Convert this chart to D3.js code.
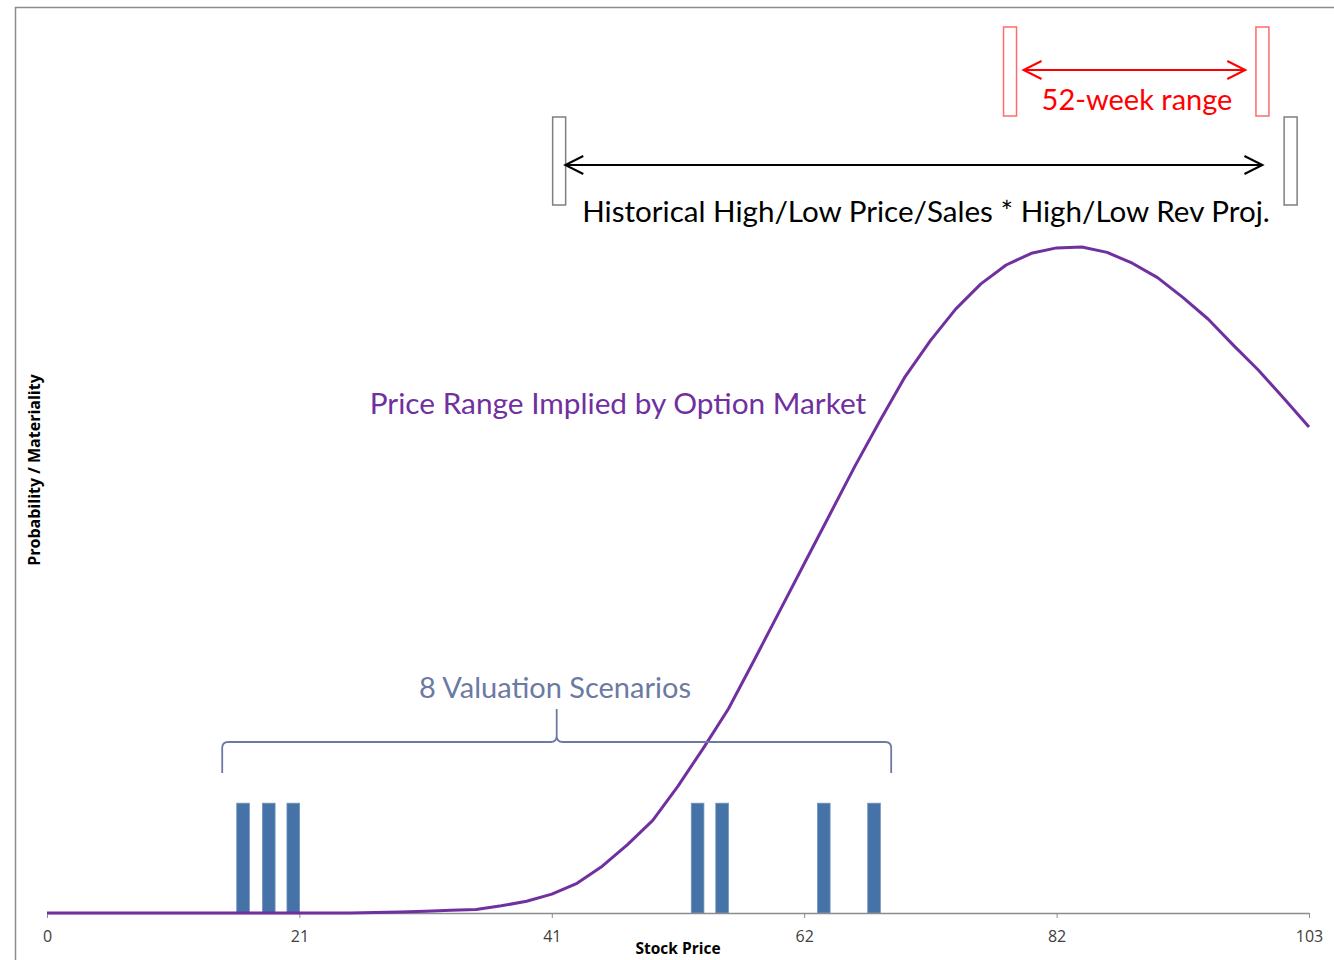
<!DOCTYPE html>
<html>
<head>
<meta charset="utf-8">
<script src="https://cdn.jsdelivr.net/npm/d3@7"></script>
<style>
  body { margin: 0; background: #fff; }
  svg { display: block; }
</style>
</head>
<body>
<svg id="chart" width="1334" height="960"></svg>
<script>
// ---- data -----------------------------------------------------------
const priceMax = 103;
const tickValues = [0, 20.6, 41.2, 61.8, 82.4, 103];
const tickLabels = ["0", "21", "41", "62", "82", "103"];

// option-implied probability density, sampled every 2.06 in price
const densityStep = 2.06;
const density = [
  0, 0, 0, 0, 0, 0, 0, 0, 0, 0, 0, 0, 0, 0.005,
  0.01, 0.02, 0.03, 0.04, 0.08, 0.13, 0.21, 0.33, 0.52, 0.76, 1.03,
  1.41, 1.83, 2.27, 2.80, 3.34, 3.88, 4.42, 4.96, 5.47, 5.96, 6.36,
  6.71, 6.99, 7.20, 7.33, 7.39, 7.40, 7.34, 7.22, 7.06, 6.84, 6.60,
  6.31, 6.03, 5.72, 5.40
];

// valuation scenarios (price, materiality)
const scenarioPrices  = [16.0, 18.1, 20.1, 53.1, 55.1, 63.4, 67.5];
const scenarioWeights = [1.22, 1.22, 1.22, 1.22, 1.22, 1.22, 1.22];

// annotated price ranges: marker boxes and the arrow between them
const range52Week   = [78.6, 99.2];
const arrow52Week   = [79.7, 97.8];
const rangeHistoric = [41.8, 101.5];
const arrowHistoric = [42.3, 99.2];
const scenarioSpan  = [14.3, 68.9];

// ---- layout ---------------------------------------------------------
const svg = d3.select("#chart");
const W = 1334, H = 960;
const plot = { left: 47, right: 1309, top: 13, bottom: 913 };

const x = d3.scaleLinear().domain([0, priceMax]).range([plot.left, plot.right]);
const y = d3.scaleLinear().domain([0, 10]).range([plot.bottom, plot.top]);

const annotFont = "Lato, 'Open Sans', sans-serif";
const axisFont = "'Open Sans', 'Noto Sans', sans-serif";

svg.append("rect").attr("width", W).attr("height", H).attr("fill", "#fff");

// chart frame
svg.append("rect")
  .attr("x", 15.5).attr("y", 7.5)
  .attr("width", W + 50).attr("height", H + 50)
  .attr("fill", "none").attr("stroke", "#8c8c8c").attr("stroke-width", 1.5);

// ---- scenario bars --------------------------------------------------
const barWidth = 1.03;
svg.append("g").selectAll("rect")
  .data(scenarioPrices.map((p, i) => ({ p, w: scenarioWeights[i] })))
  .join("rect")
  .attr("x", d => x(d.p - barWidth / 2))
  .attr("width", d => x(barWidth) - x(0))
  .attr("y", d => y(d.w))
  .attr("height", d => y(0) - y(d.w))
  .attr("fill", "#4572a7")
  .attr("stroke", "#6f92bf")
  .attr("stroke-width", 0.8);

// ---- x axis ---------------------------------------------------------
const xAxis = d3.axisBottom(x)
  .tickValues(tickValues)
  .tickFormat((d, i) => tickLabels[i])
  .tickSizeInner(5)
  .tickSizeOuter(0)
  .tickPadding(13);

const gx = svg.append("g")
  .attr("transform", `translate(0,${plot.bottom})`)
  .call(xAxis);
gx.select(".domain").attr("stroke", "#8c8c8c").attr("stroke-width", 1.5);
gx.selectAll(".tick line").attr("stroke", "#8c8c8c");
gx.selectAll(".tick text")
  .attr("font-family", axisFont).attr("font-size", 16).attr("fill", "#404040");

svg.append("text")
  .attr("x", (plot.left + plot.right) / 2).attr("y", 954)
  .attr("text-anchor", "middle")
  .attr("font-family", axisFont).attr("font-weight", 700).attr("font-size", 15.5)
  .attr("fill", "#000")
  .text("Stock Price");

svg.append("text")
  .attr("transform", "translate(40,470) rotate(-90)")
  .attr("text-anchor", "middle")
  .attr("font-family", axisFont).attr("font-weight", 700).attr("font-size", 16)
  .attr("fill", "#000")
  .text("Probability / Materiality");

// ---- density curve --------------------------------------------------
const line = d3.line()
  .x((d, i) => x(i * densityStep))
  .y(d => y(d));

svg.append("path")
  .datum(density)
  .attr("d", line)
  .attr("fill", "none")
  .attr("stroke", "#7030a0")
  .attr("stroke-width", 3)
  .attr("stroke-linejoin", "round");

// ---- range annotations ----------------------------------------------
function chevron(tipX, tipY, dir) {
  const len = 18, half = 9;
  return `M${tipX - dir * len},${tipY - half}L${tipX},${tipY}L${tipX - dir * len},${tipY + half}`;
}

function rangeMarker(range, arrow, opts) {
  const g = svg.append("g");
  const bw = 13;
  range.forEach(p => {
    g.append("rect")
      .attr("x", x(p) - bw / 2).attr("y", opts.top)
      .attr("width", bw).attr("height", opts.bottom - opts.top)
      .attr("fill", "#fff")
      .attr("stroke", opts.boxColor).attr("stroke-width", 1.5);
  });
  const x0 = x(arrow[0]);
  const x1 = x(arrow[1]);
  g.append("line")
    .attr("x1", x0).attr("x2", x1)
    .attr("y1", opts.arrowY).attr("y2", opts.arrowY)
    .attr("stroke", opts.color).attr("stroke-width", 2);
  g.append("path").attr("d", chevron(x0, opts.arrowY, -1))
    .attr("fill", "none").attr("stroke", opts.color).attr("stroke-width", 2);
  g.append("path").attr("d", chevron(x1, opts.arrowY, 1))
    .attr("fill", "none").attr("stroke", opts.color).attr("stroke-width", 2);
  g.append("text")
    .attr("x", opts.textX).attr("y", opts.textY)
    .attr("text-anchor", "middle")
    .attr("font-family", annotFont).attr("font-size", opts.fontSize)
    .attr("fill", opts.color)
    .text(opts.label);
}

rangeMarker(range52Week, arrow52Week, {
  top: 27, bottom: 116, arrowY: 70,
  color: "#ff0000", boxColor: "#ff6b6b",
  textX: 1137, textY: 110, fontSize: 29,
  label: "52-week range"
});

rangeMarker(rangeHistoric, arrowHistoric, {
  top: 117, bottom: 205, arrowY: 165,
  color: "#000", boxColor: "#7f7f7f",
  textX: 926, textY: 222, fontSize: 29.6,
  label: "Historical High/Low Price/Sales * High/Low Rev Proj."
});

// ---- curve label ----------------------------------------------------
svg.append("text")
  .attr("x", 618).attr("y", 414)
  .attr("text-anchor", "middle")
  .attr("font-family", annotFont).attr("font-size", 29.8)
  .attr("fill", "#7030a0")
  .text("Price Range Implied by Option Market");

// ---- scenario brace -------------------------------------------------
const braceColor = "#6c7aa3";
const bx0 = x(scenarioSpan[0]), bx1 = x(scenarioSpan[1]);
const bmid = (bx0 + bx1) / 2;
const bLine = 742, bEnd = 773, bTip = 709, r = 6;
svg.append("path")
  .attr("d",
    `M${bx0},${bEnd}L${bx0},${bLine + r}Q${bx0},${bLine} ${bx0 + r},${bLine}` +
    `L${bmid - r},${bLine}Q${bmid},${bLine} ${bmid},${bLine - r}L${bmid},${bTip}` +
    `M${bmid},${bLine - r}Q${bmid},${bLine} ${bmid + r},${bLine}` +
    `L${bx1 - r},${bLine}Q${bx1},${bLine} ${bx1},${bLine + r}L${bx1},${bEnd}`)
  .attr("fill", "none")
  .attr("stroke", braceColor)
  .attr("stroke-width", 1.8);

svg.append("text")
  .attr("x", 555).attr("y", 698)
  .attr("text-anchor", "middle")
  .attr("font-family", annotFont).attr("font-size", 29)
  .attr("fill", braceColor)
  .text("8 Valuation Scenarios");
</script>
</body>
</html>
